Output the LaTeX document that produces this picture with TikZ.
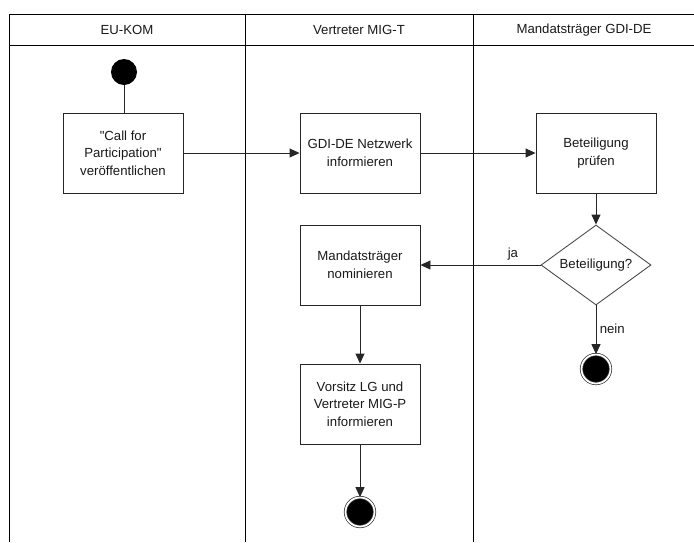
\documentclass[tikz,border=0pt]{standalone}
\usepackage{fontspec}
\setmainfont{Liberation Sans}[Ligatures=TeXOff]
\usetikzlibrary{shapes.geometric,arrows.meta}
\begin{document}
\begin{tikzpicture}[x=1pt,y=-1pt,
  every node/.style={font=\fontsize{13.2}{17.5}\selectfont, text=black!90},
  lane/.style={line width=1pt, draw=black},
  actbox/.style={draw=black!85, line width=0.9pt, minimum width=120pt, minimum height=80pt, align=center, inner sep=0pt},
  decbox/.style={draw=black!70, line width=0.9pt, shape=diamond, aspect=1.375, minimum width=110pt, minimum height=80pt, inner sep=0pt},
  startnode/.style={circle, fill=black, minimum size=26pt, inner sep=0pt},
  endnode/.style={circle, fill=black, draw=black!80, line width=0.7pt, double=white, double distance=1.8pt, minimum size=29pt, inner sep=0pt},
  flow/.style={line width=0.9pt, draw=black!85, -{Triangle[length=10pt,width=9pt]}},
  plain/.style={line width=0.9pt, draw=black!85}
]
\useasboundingbox (0,0) rectangle (694,542);
% swimlane frame
\draw[lane] (9,542) -- (9,14) -- (694,14);
\draw[lane] (9,45) -- (694,45);
\draw[lane] (245,14) -- (245,542);
\draw[lane] (473,14) -- (473,542);
\node (h1) at (127,30) {EU-KOM};
\node (h2) at (359,30) {Vertreter MIG-T};
\node (h3) at (584,30) {Mandatsträger GDI-DE};
% nodes
\node[startnode] (start) at (124,72) {};
\node[actbox] (call) at (123,153) {"Call for\\Participation"\\veröffentlichen};
\node[actbox] (netz) at (360,153) {GDI-DE Netzwerk\\informieren};
\node[actbox] (pruef) at (596,153) {Beteiligung\\prüfen};
\node[decbox] (dec) at (596,265) {Beteiligung?};
\node[actbox] (nomin) at (360,265) {Mandatsträger\\nominieren};
\node[actbox] (vors) at (360,404) {Vorsitz LG und\\Vertreter MIG-P\\informieren};
\node[endnode] (end1) at (596,369) {};
\node[endnode] (end2) at (360,512) {};
% connectors
\draw[plain] (start) -- (start |- call.north);
\draw[flow] (call.east) -- (netz.west);
\draw[flow] (netz.east) -- (pruef.west);
\draw[flow] (pruef.south) -- (dec.north);
\draw[flow] (dec.west) -- node[above, pos=0.23, yshift=1pt] {ja} (nomin.east);
\draw[flow] (dec.south) -- node[right, pos=0.47] {nein} (end1.north);
\draw[flow] (nomin.south) -- (vors.north);
\draw[flow] (vors.south) -- (end2.north);
\end{tikzpicture}
\end{document}
